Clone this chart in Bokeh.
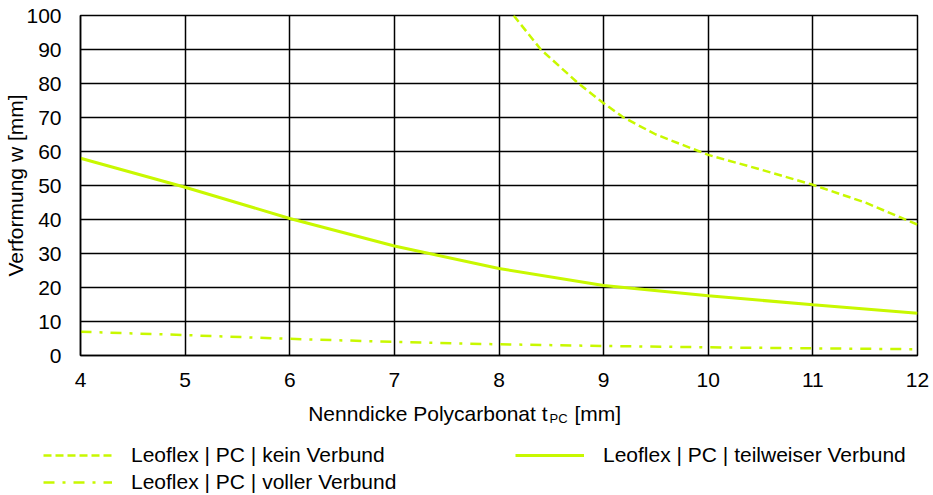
from bokeh.plotting import figure
from bokeh.layouts import column, row
from bokeh.models import Legend, LegendItem, Label, Range1d, FixedTicker
from bokeh.embed import file_html
from bokeh.resources import INLINE

# Deformation w [mm] versus nominal polycarbonate thickness t_PC [mm]
kein_x = [8.14, 8.4, 8.76, 9.0, 9.19, 9.5, 10.0, 10.5, 11.0, 11.5, 12.0]
kein_w = [100.0, 90.0, 80.0, 74.2, 70.0, 65.0, 59.0, 54.7, 50.2, 45.0, 38.5]

teil_x = [4, 5, 6, 7, 8, 9, 10, 11, 12]
teil_w = [58.0, 49.5, 40.3, 32.2, 25.6, 20.6, 17.6, 14.9, 12.4]

voll_x = [4, 5, 6, 7, 8, 9, 10, 11, 12]
voll_w = [7.0, 6.0, 4.9, 4.0, 3.3, 2.8, 2.4, 2.1, 1.85]

x_ticks = [4, 5, 6, 7, 8, 9, 10, 11, 12]
y_ticks = [0, 10, 20, 30, 40, 50, 60, 70, 80, 90, 100]

labels = [
    "Leoflex | PC | kein Verbund",
    "Leoflex | PC | teilweiser Verbund",
    "Leoflex | PC | voller Verbund",
]

LIME = "#c8f800"
FONT = "Liberation Sans"
FS = "21px"
INK = "#000000"

KEIN_STYLE = dict(line_color=LIME, line_width=2.5, line_dash="8 4")
TEIL_STYLE = dict(line_color=LIME, line_width=3)
VOLL_STYLE = dict(line_color=LIME, line_width=2.5, line_dash="11 8 3 8")

# ---- main chart -------------------------------------------------------------
p = figure(
    width=933, height=395,
    output_backend="svg", toolbar_location=None,
    x_range=Range1d(4, 12), y_range=Range1d(0, 100),
    min_border_left=80, min_border_right=16,
    min_border_top=15, min_border_bottom=40,
)
p.background_fill_color = "white"
p.border_fill_color = "white"
p.outline_line_color = "black"
p.outline_line_width = 1.5

p.xaxis.ticker = FixedTicker(ticks=x_ticks)
p.yaxis.ticker = FixedTicker(ticks=y_ticks)

for ax in (p.xaxis[0], p.yaxis[0]):
    ax.axis_line_color = "black"
    ax.axis_line_width = 1.5
    ax.major_tick_in = 0
    ax.major_tick_out = 0
    ax.minor_tick_in = 0
    ax.minor_tick_out = 0
    ax.major_label_text_font = FONT
    ax.major_label_text_font_size = FS
    ax.major_label_text_color = INK

p.xaxis.major_label_standoff = 17
p.yaxis.major_label_standoff = 19
p.yaxis.axis_label = "Verformung w [mm]"
p.yaxis.axis_label_text_font = FONT
p.yaxis.axis_label_text_font_size = FS
p.yaxis.axis_label_text_font_style = "normal"
p.yaxis.axis_label_text_color = INK
p.yaxis.axis_label_standoff = -4

for g in (p.xgrid[0], p.ygrid[0]):
    g.grid_line_color = "black"
    g.grid_line_width = 1.5

p.line(kein_x, kein_w, **KEIN_STYLE)
p.line(teil_x, teil_w, **TEIL_STYLE)
p.line(voll_x, voll_w, **VOLL_STYLE)

# ---- footer: x-axis title (with subscript) and legend -----------------------
f = figure(
    width=933, height=100,
    output_backend="svg", toolbar_location=None,
    x_range=Range1d(0, 1), y_range=Range1d(0, 1),
    x_axis_type=None, y_axis_type=None,
    min_border=0, min_border_left=0, min_border_right=0,
    min_border_top=0, min_border_bottom=0,
)
f.outline_line_color = None
f.grid.visible = False
f.background_fill_color = "white"
f.border_fill_color = "white"

title_main = Label(x=547, y=82, x_units="screen", y_units="screen",
                   text="Nenndicke Polycarbonat t", text_align="right",
                   text_baseline="alphabetic", text_font=FONT,
                   text_font_size=FS, text_color=INK)
title_sub = Label(x=549, y=77, x_units="screen", y_units="screen",
                  text="PC", text_align="left", text_baseline="alphabetic",
                  text_font=FONT, text_font_size="13px", text_color=INK)
title_unit = Label(x=574, y=82, x_units="screen", y_units="screen",
                   text="[mm]", text_align="left", text_baseline="alphabetic",
                   text_font=FONT, text_font_size=FS, text_color=INK)
for lb in (title_main, title_sub, title_unit):
    f.add_layout(lb)

# legend swatches: the series again, lying outside this panel's visible range
k_sw = f.line(kein_x, kein_w, **KEIN_STYLE)
t_sw = f.line(teil_x, teil_w, **TEIL_STYLE)
v_sw = f.line(voll_x, voll_w, **VOLL_STYLE)

legend = Legend(
    items=[
        LegendItem(label=labels[0], renderers=[k_sw]),
        LegendItem(label=labels[1], renderers=[t_sw]),
        LegendItem(label=labels[2], renderers=[v_sw]),
    ],
    orientation="horizontal", ncols=2,
    location=(43, 1),
    glyph_width=69, glyph_height=20,
    label_standoff=19, label_width=381, label_height=20,
    spacing=3, padding=0, margin=0,
    border_line_alpha=0, background_fill_alpha=0,
    label_text_font=FONT, label_text_font_size=FS, label_text_color=INK,
)
f.add_layout(legend)

layout = column(p, row(f), spacing=0)
open("out.html", "w").write(file_html(layout, INLINE))
